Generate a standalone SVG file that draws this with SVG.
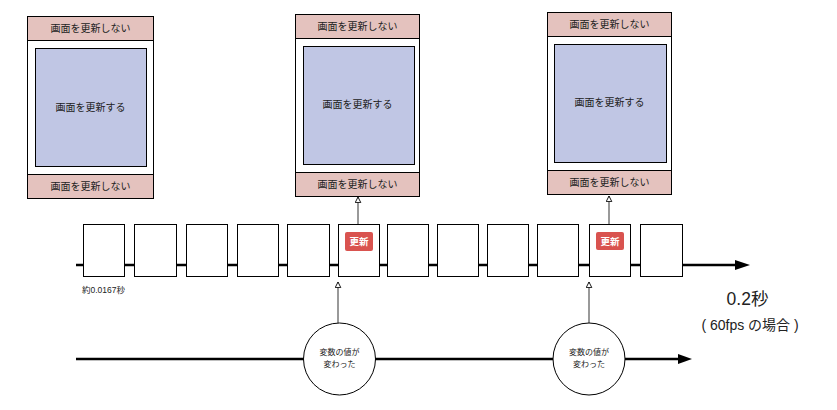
<svg xmlns="http://www.w3.org/2000/svg" width="837" height="410" viewBox="0 0 837 410">
<style>
text{font-family:"Liberation Sans","Noto Sans CJK JP",sans-serif;fill:#222;}
.ph{fill:#fff;stroke:#000;stroke-width:1;}
.pk{fill:#e4c2be;stroke:#000;stroke-width:1;}
.bl{fill:#c0c6e4;stroke:#000;stroke-width:1;}
.t9{font-size:10px;text-anchor:middle;}
.fr{fill:#fff;stroke:#000;stroke-width:1;}
.bd{fill:#d9534f;}
.bt{font-size:9.5px;font-weight:bold;fill:#fff;text-anchor:middle;}
.ci{fill:#fff;stroke:#000;stroke-width:1;}
.t8{font-size:8px;text-anchor:middle;}
.ax{stroke:#000;stroke-width:2.5;fill:none;}
.cn{stroke:#555;stroke-width:1.2;fill:none;}
</style>
<defs>
<marker id="hol" viewBox="0 0 10 10" refX="9" refY="5" markerWidth="7" markerHeight="7" markerUnits="userSpaceOnUse" orient="auto">
<path d="M1,1 L9,5 L1,9 Z" fill="#fff" stroke="#000" stroke-width="1.3"/>
</marker>
</defs>
<g id="connectors">
<line class="ax" x1="76" y1="265" x2="740" y2="265"/>
<path d="M735,260 L750,265 L735,270 Z" fill="#000"/>
<line class="ax" x1="76" y1="359" x2="682" y2="359"/>
<path d="M678,354 L692,359 L678,364 Z" fill="#000"/>
<line class="cn" x1="358" y1="224" x2="358" y2="197" marker-end="url(#hol)"/>
<line class="cn" x1="609" y1="224" x2="609" y2="196" marker-end="url(#hol)"/>
<line class="cn" x1="338" y1="323" x2="338" y2="282" marker-end="url(#hol)"/>
<line class="cn" x1="589" y1="323" x2="589" y2="282" marker-end="url(#hol)"/>
</g>
<g id="phone1">
<rect class="ph" x="27.5" y="16.5" width="126" height="182"/>
<rect class="pk" x="27.5" y="16.5" width="126" height="24"/>
<rect class="pk" x="27.5" y="174.5" width="126" height="24"/>
<rect class="bl" x="35.5" y="48.5" width="111" height="118"/>
<text class="t9" x="90.5" y="32">画面を更新しない</text>
<text class="t9" x="90.5" y="111">画面を更新する</text>
<text class="t9" x="90.5" y="190">画面を更新しない</text>
</g>
<g id="phone2">
<rect class="ph" x="295.5" y="14.5" width="124" height="182"/>
<rect class="pk" x="295.5" y="14.5" width="124" height="24"/>
<rect class="pk" x="295.5" y="172.5" width="124" height="24"/>
<rect class="bl" x="303.5" y="46.5" width="111" height="118"/>
<text class="t9" x="357.5" y="30">画面を更新しない</text>
<text class="t9" x="357.5" y="108">画面を更新する</text>
<text class="t9" x="357.5" y="188">画面を更新しない</text>
</g>
<g id="phone3">
<rect class="ph" x="547.5" y="12.5" width="124" height="182"/>
<rect class="pk" x="547.5" y="12.5" width="124" height="24"/>
<rect class="pk" x="547.5" y="170.5" width="124" height="24"/>
<rect class="bl" x="554.5" y="44.5" width="112" height="118"/>
<text class="t9" x="609.5" y="28">画面を更新しない</text>
<text class="t9" x="609.5" y="106">画面を更新する</text>
<text class="t9" x="609.5" y="186">画面を更新しない</text>
</g>
<g id="frames">
<rect class="fr" x="83.5" y="224.5" width="41" height="52"/>
<rect class="fr" x="134.5" y="224.5" width="42" height="52"/>
<rect class="fr" x="186.5" y="224.5" width="41" height="52"/>
<rect class="fr" x="237.5" y="224.5" width="41" height="52"/>
<rect class="fr" x="287.5" y="224.5" width="42" height="52"/>
<rect class="fr" x="338.5" y="224.5" width="41" height="52"/>
<rect class="fr" x="387.5" y="224.5" width="41" height="52"/>
<rect class="fr" x="437.5" y="224.5" width="41" height="52"/>
<rect class="fr" x="487.5" y="224.5" width="41" height="52"/>
<rect class="fr" x="537.5" y="224.5" width="41" height="52"/>
<rect class="fr" x="589.5" y="224.5" width="41" height="52"/>
<rect class="fr" x="640.5" y="224.5" width="42" height="52"/>
</g>
<g id="badge1">
<rect class="bd" x="345" y="232" width="28" height="19" rx="2"/>
<text class="bt" x="359" y="245">更新</text>
</g>
<g id="badge2">
<rect class="bd" x="596" y="232" width="28" height="18" rx="2"/>
<text class="bt" x="610" y="244.5">更新</text>
</g>
<g id="event1">
<circle class="ci" cx="339.5" cy="359" r="36"/>
<text class="t8" x="339.5" y="355">変数の値が</text>
<text class="t8" x="339.5" y="367">変わった</text>
</g>
<g id="event2">
<circle class="ci" cx="589" cy="359" r="36"/>
<text class="t8" x="589" y="355">変数の値が</text>
<text class="t8" x="589" y="367">変わった</text>
</g>
<g id="labels">
<text x="82" y="293" style="font-size:8.5px;">約0.0167秒</text>
<text x="747.5" y="305" style="font-size:17.5px;text-anchor:middle;">0.2秒</text>
<text x="750" y="330" style="font-size:14px;text-anchor:middle;">( 60fps の場合 )</text>
</g>
</svg>
